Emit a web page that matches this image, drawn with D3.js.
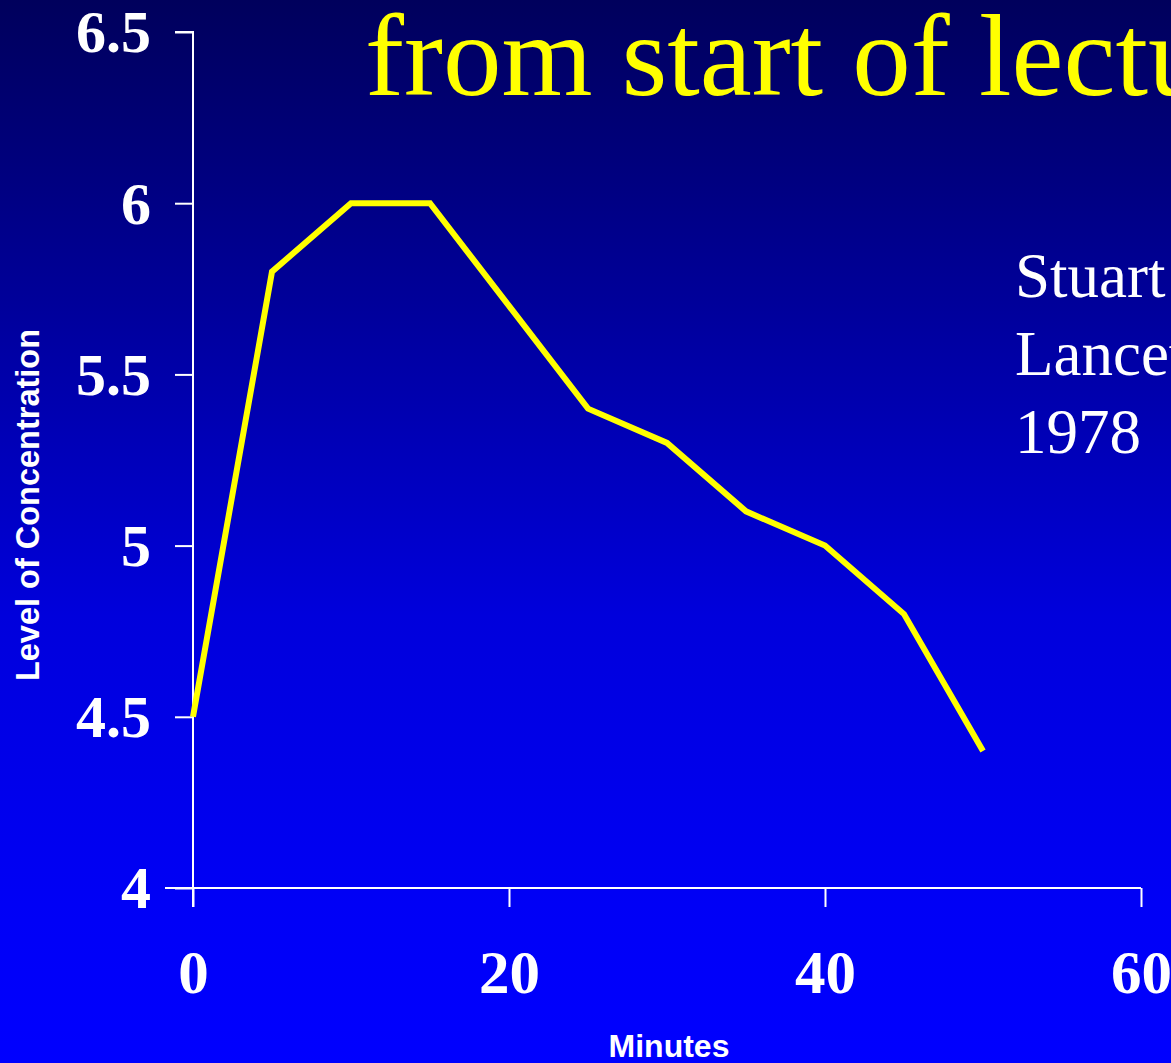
<!DOCTYPE html>
<html>
<head>
<meta charset="utf-8">
<script src="https://cdn.jsdelivr.net/npm/d3@7"></script>
<style>
  html, body { margin: 0; padding: 0; background: #0000ff; }
  svg { display: block; }
</style>
</head>
<body>
<script>
// Concentration level over the minutes of a lecture
const minutes = [0, 5, 10, 15, 20, 25, 30, 35, 40, 45, 50];
const concentration = [4.5, 5.8, 6.0, 6.0, 5.7, 5.4, 5.3, 5.1, 5.0, 4.8, 4.4];
const xTicks = [0, 20, 40, 60];
const yTicks = [4, 4.5, 5, 5.5, 6, 6.5];
const yTickLabels = ["4", "4.5", "5", "5.5", "6", "6.5"];
const titleText = "from start of lecture";
const sourceLines = ["Stuart", "Lancet", "1978"];
const xTitle = "Minutes";
const yTitle = "Level of Concentration";

const W = 1171, H = 1063;
const svg = d3.select("body").append("svg").attr("width", W).attr("height", H);

// Background gradient, dark navy to bright blue
const defs = svg.append("defs");
const grad = defs.append("linearGradient").attr("id", "bg")
  .attr("x1", 0).attr("y1", 0).attr("x2", 0).attr("y2", 1);
[["0%", "#00005c"], ["15%", "#00007c"], ["58%", "#0000dc"], ["85%", "#0000f6"], ["100%", "#0000ff"]]
  .forEach(([o, c]) => grad.append("stop").attr("offset", o).attr("stop-color", c));
svg.append("rect").attr("width", W).attr("height", H).attr("fill", "url(#bg)");

const x = d3.scaleLinear().domain([0, 60]).range([193, 1141]);
const y = d3.scaleLinear().domain([4, 6.5]).range([888, 32]);

// Title (runs off the right edge)
svg.append("text")
  .attr("x", 365).attr("y", 95)
  .attr("font-family", "'Liberation Serif', 'Times New Roman', serif")
  .attr("font-size", 117)
  .attr("fill", "#ffff00")
  .text(titleText);

// Axes
const xAxis = d3.axisBottom(x).tickValues(xTicks).tickSize(19).tickPadding(43)
  .tickFormat(d3.format("d"));
const yAxis = d3.axisLeft(y).tickValues(yTicks).tickSize(18).tickPadding(24)
  .tickFormat((d, i) => yTickLabels[i]);

const gx = svg.append("g").attr("transform", `translate(0,${y(4)})`).call(xAxis);
const gy = svg.append("g").attr("transform", `translate(${x(0)},0)`).call(yAxis);

[gx, gy].forEach(g => {
  g.select(".domain").attr("stroke", "#ffffff").attr("stroke-width", 2);
  g.selectAll(".tick line").attr("stroke", "#ffffff").attr("stroke-width", 2);
  g.selectAll(".tick text")
    .attr("fill", "#ffffff")
    .attr("font-family", "'Liberation Serif', 'Times New Roman', serif")
    .attr("font-weight", "bold");
});
gx.selectAll(".tick text").attr("font-size", 61).attr("dy", "0.71em");
gy.selectAll(".tick text").attr("font-size", 60).attr("dy", "0.33em");
gx.select(".domain").attr("d", `M${x(0) - 28},0H${x(60)}`);
gy.select(".domain").attr("d", `M-18,${y(6.5)}H0V${y(4) + 19}`);

// Axis titles
svg.append("text")
  .attr("x", 669).attr("y", 1057)
  .attr("text-anchor", "middle")
  .attr("font-family", "'Liberation Sans', Arial, sans-serif")
  .attr("font-weight", "bold")
  .attr("font-size", 32)
  .attr("fill", "#ffffff")
  .text(xTitle);

svg.append("text")
  .attr("transform", "translate(39,505) rotate(-90)")
  .attr("text-anchor", "middle")
  .attr("font-family", "'Liberation Sans', Arial, sans-serif")
  .attr("font-weight", "bold")
  .attr("font-size", 32.5)
  .attr("fill", "#ffffff")
  .text(yTitle);

// Data line
const line = d3.line().x((d, i) => x(minutes[i])).y(d => y(d));
svg.append("path")
  .datum(concentration)
  .attr("d", line)
  .attr("fill", "none")
  .attr("stroke", "#ffff00")
  .attr("stroke-width", 6)
  .attr("stroke-linejoin", "miter");

// Source note
const src = svg.append("text")
  .attr("font-family", "'Liberation Serif', 'Times New Roman', serif")
  .attr("font-size", 63)
  .attr("fill", "#ffffff");
sourceLines.forEach((s, i) => {
  src.append("tspan").attr("x", 1015).attr("y", 297 + i * 78).text(s);
});
</script>
</body>
</html>
